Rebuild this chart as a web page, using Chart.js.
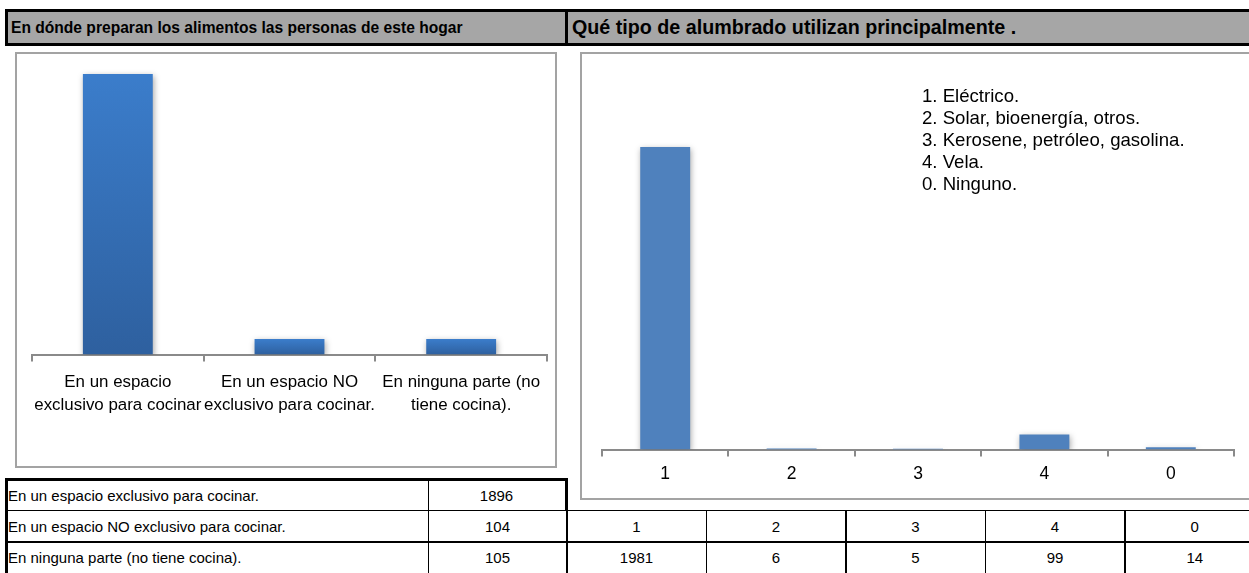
<!DOCTYPE html>
<html><head><meta charset="utf-8">
<script src="https://cdn.jsdelivr.net/npm/chart.js@4"></script>
<style>
html,body{margin:0;padding:0;background:#fff;width:1249px;height:573px;overflow:hidden;font-family:"Liberation Sans",Arial,sans-serif;}
.abs{position:absolute;box-sizing:border-box;}
.hdr{background:#a6a6a6;border:3px solid #000;font-weight:bold;color:#000;display:flex;align-items:center;white-space:nowrap;overflow:hidden;}
.box{border:2px solid #a3a3a3;background:#fff;}
.cell{border:1.5px solid #000;font-size:15px;display:flex;align-items:center;white-space:nowrap;overflow:hidden;}
.c{justify-content:center;}
.legend{font-size:18.6px;line-height:22px;color:#000;}
</style></head>
<body>
<div class="abs hdr" style="left:5px;top:9px;width:563px;height:37px;font-size:15.6px;padding-left:3px;">En dónde preparan los alimentos las personas de este hogar</div>
<div class="abs hdr" style="left:565px;top:9px;width:700px;height:37px;font-size:19.7px;padding-left:4px;">Qué tipo de alumbrado utilizan principalmente .</div>

<div class="abs box" style="left:15px;top:52px;width:542px;height:416px;"></div>
<div class="abs box" style="left:580px;top:52px;width:690px;height:448px;"></div>
<canvas id="c1" class="abs" width="538" height="412" style="left:17px;top:54px;width:538px;height:412px;"></canvas>
<canvas id="c2" class="abs" width="667" height="444" style="left:582px;top:54px;width:667px;height:444px;"></canvas>

<div class="abs legend" id="legend" style="left:922px;top:85px;"></div>

<div id="tables"></div>

<script>
// ---- data ----
const cocinaCategories = [["En un espacio","exclusivo para cocinar"],["En un espacio NO","exclusivo para cocinar."],["En ninguna parte (no","tiene cocina)."]];
const cocinaTableLabels = ["En un espacio exclusivo para cocinar.","En un espacio NO exclusivo para cocinar.","En ninguna parte (no tiene cocina)."];
const cocinaValues = [1896, 104, 105];
const alumbradoCategories = ["1","2","3","4","0"];
const alumbradoValues = [1981, 6, 5, 99, 14];
const alumbradoLegend = ["1. Eléctrico.","2. Solar, bioenergía, otros.","3. Kerosene, petróleo, gasolina.","4. Vela.","0. Ninguno."];

document.getElementById('legend').innerHTML = alumbradoLegend.map(t=>'<div>'+t+'</div>').join('');

// tables
(function(){
  const rows=[478,509.5,541,573];
  let h='';
  const cell=(x,y,w,hh,txt,cls,extra)=>`<div class="abs cell ${cls}" style="left:${x}px;top:${y}px;width:${w}px;height:${hh}px;${extra||''}">${txt}</div>`;
  for(let i=0;i<3;i++){
    const y=rows[i], hh=rows[i+1]-rows[i]+1.5;
    h+=cell(5,y,424,hh,cocinaTableLabels[i],'','padding-left:0px;border-left-width:3px;'+(i==0?'border-top-width:3px;':''));
    h+=cell(427.5,y,140,hh,String(cocinaValues[i]),'c',(i==0?'border-top-width:3px;border-right-width:3px;':''));
  }
  const cx=[566,705.5,845,984.5,1124,1264];
  for(let j=0;j<5;j++){
    h+=cell(cx[j],rows[1],cx[j+1]-cx[j]+1.5,rows[2]-rows[1]+1.5,alumbradoCategories[j],'c','');
    h+=cell(cx[j],rows[2],cx[j+1]-cx[j]+1.5,rows[3]-rows[2]+1.5,String(alumbradoValues[j]),'c','');
  }
  document.getElementById('tables').innerHTML=h;
})();

const FONT = '"Liberation Sans", Arial, sans-serif';
const shadowPlugin = {
  id:'shadow',
  beforeDatasetsDraw(chart){const c=chart.ctx;c.save();c.shadowColor='rgba(0,0,0,0.35)';c.shadowBlur=6;c.shadowOffsetX=1;c.shadowOffsetY=2;},
  afterDatasetsDraw(chart){chart.ctx.restore();}
};

function gradFill(ctx){
  const chart=ctx.chart;
  const ys=chart.scales.y;
  if(!ys || ctx.raw===undefined) return '#3a78c4';
  const top=ys.getPixelForValue(ctx.raw), base=ys.getPixelForValue(0);
  if(!isFinite(top)||!isFinite(base)||base-top<1) return '#3a78c4';
  const g=chart.ctx.createLinearGradient(0,top,0,base);
  g.addColorStop(0,'#3b7dcb');
  g.addColorStop(1,'#2e609f');
  return g;
}

// left chart: canvas 538 x 412 at (17,54)
new Chart(document.getElementById('c1'),{
  type:'bar',
  data:{labels:cocinaCategories,datasets:[{data:cocinaValues,backgroundColor:gradFill,barPercentage:0.407,categoryPercentage:1}]},
  plugins:[shadowPlugin],
  options:{
    responsive:false,devicePixelRatio:1,animation:false,
    layout:{padding:{left:15,right:8,top:4.6,bottom:0}},
    plugins:{legend:{display:false},tooltip:{enabled:false}},
    scales:{
      y:{display:false,min:0,max:2000},
      x:{
        afterFit(s){s.height=111.5;},
        border:{display:true,color:'#8a8a8a',width:2},
        grid:{display:true,drawOnChartArea:false,drawTicks:true,tickLength:7,color:'#8a8a8a',lineWidth:2,offset:true},
        ticks:{color:'#000',font:{family:FONT,size:16.9,lineHeight:1.36},padding:9,maxRotation:0,autoSkip:false}
      }
    }
  }
});

// right chart: canvas 667 x 444 at (582,54)
new Chart(document.getElementById('c2'),{
  type:'bar',
  data:{labels:alumbradoCategories,datasets:[{data:alumbradoValues,backgroundColor:'#4f81bd',barPercentage:0.395,categoryPercentage:1}]},
  plugins:[shadowPlugin],
  options:{
    responsive:false,devicePixelRatio:1,animation:false,
    layout:{padding:{left:20,right:15,top:13.8,bottom:0}},
    plugins:{legend:{display:false},tooltip:{enabled:false}},
    scales:{
      y:{display:false,min:0,max:2500},
      x:{
        afterFit(s){s.height=48.5;},
        border:{display:true,color:'#8a8a8a',width:2},
        grid:{display:true,drawOnChartArea:false,drawTicks:true,tickLength:7,color:'#8a8a8a',lineWidth:2,offset:true},
        ticks:{color:'#000',font:{family:FONT,size:17.5},padding:7,maxRotation:0,autoSkip:false}
      }
    }
  }
});
</script>
</body></html>
